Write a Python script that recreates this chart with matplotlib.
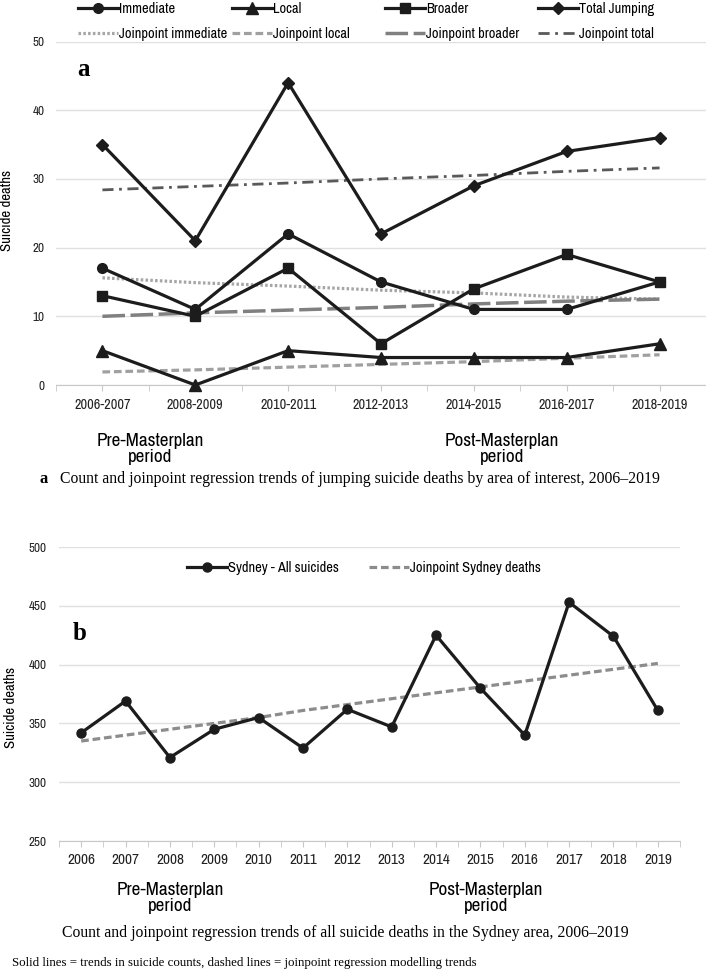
import numpy as np
import matplotlib.pyplot as plt
from matplotlib import font_manager as fm

# panel a data
periods = ['2006-2007', '2008-2009', '2010-2011', '2012-2013', '2014-2015', '2016-2017', '2018-2019']
immediate = [17, 11, 22, 15, 11, 11, 15]
local = [5, 0, 5, 4, 4, 4, 6]
broader = [13, 10, 17, 6, 14, 19, 15]
total = [35, 21, 44, 22, 29, 34, 36]
jp_immediate = [15.6, 14.9, 14.4, 13.8, 13.4, 12.8, 12.5]
jp_local = [1.9, 2.2, 2.6, 3.0, 3.4, 3.9, 4.4]
jp_broader = [10.0, 10.5, 10.9, 11.3, 11.8, 12.2, 12.5]
jp_total = [28.4, 28.9, 29.4, 30.0, 30.5, 31.1, 31.6]

# panel b data
years = [str(y) for y in range(2006, 2020)]
sydney = [342, 369, 321, 345, 355, 329, 362, 347, 425, 380, 340, 453, 424, 361]
jp_sydney = [335, 340, 345, 350, 355, 361, 366, 371, 376, 381, 386, 391, 396, 401]

W, H = 706, 969
serif = ['Liberation Serif', 'DejaVu Serif']

# look for a narrow sans (the original uses Arial Narrow)
narrow = None
for f in fm.fontManager.ttflist:
    if any(s in f.name for s in ('Narrow', 'Condensed')):
        narrow = f.name
        break
if narrow:
    sans = [narrow, 'Liberation Sans']
    k = 1.0
else:
    sans = ['Liberation Sans', 'DejaVu Sans']
    k = 0.88
plt.rcParams['font.family'] = sans

def fx(x):
    return x / W

def fy(y):
    return 1 - y / H

black = '#1c1c1c'
grid_c = '#e0e0e0'
tick_c = '#c8c8c8'

fig = plt.figure(figsize=(W / 100, H / 100), dpi=100)


def style_axes(ax, n, xsize, ypad):
    ax.set_xlim(-0.5, n - 0.5)
    ax.grid(axis='y', color=grid_c, lw=1)
    ax.set_axisbelow(True)
    for s in ['top', 'right', 'left']:
        ax.spines[s].set_visible(False)
    ax.spines['bottom'].set_color(tick_c)
    ax.tick_params(axis='y', length=0, pad=ypad, labelsize=9.5 * k, labelcolor='#222222')
    ax.tick_params(axis='x', length=4, color=tick_c, pad=5, labelsize=xsize * k, labelcolor='#222222')
    ax.set_xticks(np.arange(-0.5, n, 1), minor=True)
    ax.tick_params(axis='x', which='minor', length=4, color=tick_c)


# ---- panel a ----
ax1 = fig.add_axes([fx(56), fy(385), fx(706) - fx(56), fy(41.5) - fy(385)])
xa = np.arange(len(periods))
kw = dict(color=black, lw=2.3, clip_on=False, zorder=4)
l_imm, = ax1.plot(xa, immediate, marker='o', ms=7, **kw)
l_loc, = ax1.plot(xa, local, marker='^', ms=8, **kw)
l_bro, = ax1.plot(xa, broader, marker='s', ms=7, **kw)
l_tot, = ax1.plot(xa, total, marker='D', ms=6, **kw)
j_imm, = ax1.plot(xa, jp_immediate, color='#a6a6a6', lw=2.3, ls=(0, (0.8, 0.7)), zorder=3)
j_loc, = ax1.plot(xa, jp_local, color='#a0a0a0', lw=2.3, ls=(0, (2.4, 1.2)), zorder=3)
j_bro, = ax1.plot(xa, jp_broader, color='#808080', lw=2.5, ls=(0, (6.5, 1.6)), zorder=3)
j_tot, = ax1.plot(xa, jp_total, color='#595959', lw=2.0, ls=(0, (4, 2, 1, 2)), zorder=3)
ax1.set_ylim(0, 50)
ax1.set_yticks(range(0, 51, 10))
ax1.set_xticks(xa)
ax1.set_xticklabels(periods)
style_axes(ax1, len(periods), 10.3, 8)

cols = [78, 232, 385, 538]
pairs = [(l_imm, 'Immediate', j_imm, 'Joinpoint immediate'),
         (l_loc, 'Local', j_loc, 'Joinpoint local'),
         (l_bro, 'Broader', j_bro, 'Joinpoint broader'),
         (l_tot, 'Total Jumping', j_tot, 'Joinpoint total')]
for x0, (h1, t1, h2, t2) in zip(cols, pairs):
    fig.legend([h1, h2], [t1, t2], loc='upper left', bbox_to_anchor=(fx(x0), fy(2)),
               frameon=False, borderpad=0, borderaxespad=0, handlelength=2.75 / k,
               handletextpad=0.1, labelspacing=0.75 / k, fontsize=10.4 * k, numpoints=1)

fig.text(fx(7), fy(210), 'Suicide deaths', rotation=90, ha='center', va='center', fontsize=10.7 * k)
fig.text(fx(83), fy(70), 'a', family=serif, fontweight='bold', fontsize=18, ha='center', va='center')
fig.text(fx(150), fy(449), 'Pre-Masterplan\nperiod', ha='center', va='center', fontsize=13.8 * k, linespacing=1.05)
fig.text(fx(502), fy(449), 'Post-Masterplan\nperiod', ha='center', va='center', fontsize=13.8 * k, linespacing=1.05)
fig.text(fx(40), fy(479), 'a', family=serif, fontweight='bold', fontsize=12, va='center')
fig.text(fx(60), fy(479), 'Count and joinpoint regression trends of jumping suicide deaths by area of interest, 2006\u20132019',
         family=serif, fontsize=11.35, va='center')

# ---- panel b ----
ax2 = fig.add_axes([fx(59), fy(841), fx(680) - fx(59), fy(547) - fy(841)])
xb = np.arange(len(years))
s_line, = ax2.plot(xb, sydney, color=black, lw=2.3, marker='o', ms=6.5, zorder=4)
s_jp, = ax2.plot(xb, jp_sydney, color='#8c8c8c', lw=2.3, ls=(0, (2.4, 1.2)), zorder=3)
ax2.set_ylim(250, 500)
ax2.set_yticks(range(250, 501, 50))
ax2.set_xticks(xb)
ax2.set_xticklabels(years)
style_axes(ax2, len(years), 11, 9)

fig.legend([s_line], ['Sydney - All suicides'], loc='center left', bbox_to_anchor=(fx(187), fy(568)),
           frameon=False, borderpad=0, borderaxespad=0, handlelength=2.75 / k, handletextpad=0.1,
           fontsize=10.4 * k, numpoints=1)
fig.legend([s_jp], ['Joinpoint Sydney deaths'], loc='center left', bbox_to_anchor=(fx(369), fy(568)),
           frameon=False, borderpad=0, borderaxespad=0, handlelength=2.75 / k, handletextpad=0.1,
           fontsize=10.4 * k, numpoints=1)

fig.text(fx(11), fy(707), 'Suicide deaths', rotation=90, ha='center', va='center', fontsize=10.7 * k)
fig.text(fx(80), fy(634), 'b', family=serif, fontweight='bold', fontsize=18, ha='center', va='center')
fig.text(fx(170), fy(898), 'Pre-Masterplan\nperiod', ha='center', va='center', fontsize=13.8 * k, linespacing=1.05)
fig.text(fx(486), fy(898), 'Post-Masterplan\nperiod', ha='center', va='center', fontsize=13.8 * k, linespacing=1.05)
fig.text(fx(62), fy(933), 'Count and joinpoint regression trends of all suicide deaths in the Sydney area, 2006\u20132019',
         family=serif, fontsize=11.3, va='center')
fig.text(fx(12), fy(963), 'Solid lines = trends in suicide counts, dashed lines = joinpoint regression modelling trends',
         family=serif, fontsize=9.3, va='center')

fig.savefig('out.png', dpi=100)
